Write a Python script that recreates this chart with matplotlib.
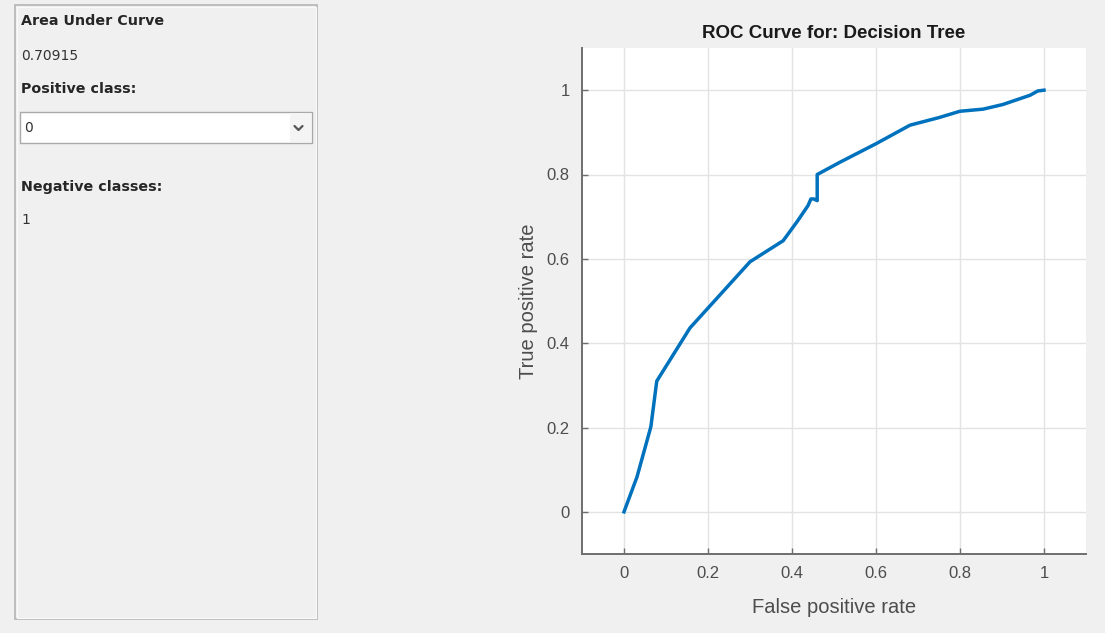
import matplotlib
matplotlib.use("Agg")
import matplotlib.pyplot as plt
from matplotlib.patches import Rectangle

# ROC curve points for the decision tree classifier
fpr = [0.0, 0.031, 0.064, 0.078, 0.157, 0.30, 0.379, 0.412, 0.438, 0.445,
       0.452, 0.460, 0.460, 0.514, 0.60, 0.681, 0.75, 0.80, 0.855, 0.902,
       0.967, 0.985, 1.0]
tpr = [0.0, 0.083, 0.202, 0.310, 0.436, 0.593, 0.643, 0.688, 0.726, 0.742,
       0.742, 0.738, 0.800, 0.829, 0.873, 0.917, 0.935, 0.950, 0.955, 0.966,
       0.988, 0.998, 1.0]

auc_text = "0.70915"
positive_class = "0"
negative_classes = "1"
x_ticks = [0, 0.2, 0.4, 0.6, 0.8, 1]
y_ticks = [0, 0.2, 0.4, 0.6, 0.8, 1]
x_tick_labels = ["0", "0.2", "0.4", "0.6", "0.8", "1"]
y_tick_labels = ["0", "0.2", "0.4", "0.6", "0.8", "1"]

W, H = 1105, 633
BG = "#f0f0f0"
FONT = ["Liberation Sans", "DejaVu Sans"]
PANEL_FONT = ["DejaVu Sans"]

fig = plt.figure(figsize=(W / 100, H / 100), dpi=100, facecolor=BG)

# ---- side panel (drawn in pixel coordinates) ----
panel = fig.add_axes([0, 0, 1, 1], zorder=0)
panel.set_xlim(0, W)
panel.set_ylim(H, 0)
panel.axis("off")

panel.add_patch(Rectangle((15, 5), 302, 614, facecolor="none",
                          edgecolor="#b4b4b4", linewidth=1.2))
panel.add_patch(Rectangle((16.5, 6.5), 299, 611, facecolor="none",
                          edgecolor="#fafafa", linewidth=0.8))

label_kw = dict(fontsize=10.3, fontweight="bold", color="#262626",
                family=PANEL_FONT, va="center", ha="left")
value_kw = dict(fontsize=10, color="#333333", family=PANEL_FONT,
                va="center", ha="left")

panel.text(21, 21, "Area Under Curve", **label_kw)
panel.text(21, 56, auc_text, **value_kw)
panel.text(21, 89, "Positive class:", **label_kw)

# dropdown box
panel.add_patch(Rectangle((20, 112), 292, 31, facecolor="white",
                          edgecolor="#a9a9a9", linewidth=1.0))
panel.add_patch(Rectangle((290, 113), 21, 29, facecolor="#f4f4f4",
                          edgecolor="none"))
panel.plot([294.5, 298.5, 302.5], [126, 130, 126], color="#555555",
           linewidth=1.6, solid_capstyle="round")
panel.text(24, 128, positive_class, **value_kw)

panel.text(21, 187, "Negative classes:", **label_kw)
panel.text(21, 220, negative_classes, **value_kw)

# ---- ROC axes ----
left, right, top, bottom = 582, 1086, 48, 554
ax = fig.add_axes([left / W, 1 - bottom / H, (right - left) / W,
                   (bottom - top) / H], zorder=1)
ax.set_facecolor("white")

ax.plot(fpr, tpr, color="#0072BD", linewidth=2.5, solid_joinstyle="round",
        zorder=3)

ax.set_xlim(-0.1, 1.1)
ax.set_ylim(-0.1, 1.1)
ax.set_xticks(x_ticks)
ax.set_xticklabels(x_tick_labels)
ax.set_yticks(y_ticks)
ax.set_yticklabels(y_tick_labels)

ax.grid(True, color="#e3e3e3", linewidth=1.0, zorder=0)
ax.set_axisbelow(True)

for side in ("top", "right"):
    ax.spines[side].set_visible(False)
for side in ("left", "bottom"):
    ax.spines[side].set_color("#6e6e6e")
    ax.spines[side].set_linewidth(1.4)

ax.tick_params(direction="in", length=4, width=1.0, color="#6e6e6e",
               labelcolor="#4d4d4d", labelsize=12, pad=9)
for lbl in ax.get_xticklabels() + ax.get_yticklabels():
    lbl.set_family(FONT)

ax.set_xlabel("False positive rate", fontsize=14.5, color="#4d4d4d",
              family=FONT, labelpad=12)
ax.set_ylabel("True positive rate", fontsize=14.5, color="#4d4d4d",
              family=FONT, labelpad=6)
ax.set_title("ROC Curve for: Decision Tree", fontsize=13.5,
             fontweight="bold", color="#1a1a1a", family=FONT, pad=7)

fig.savefig("out.png", dpi=100, facecolor=BG)
